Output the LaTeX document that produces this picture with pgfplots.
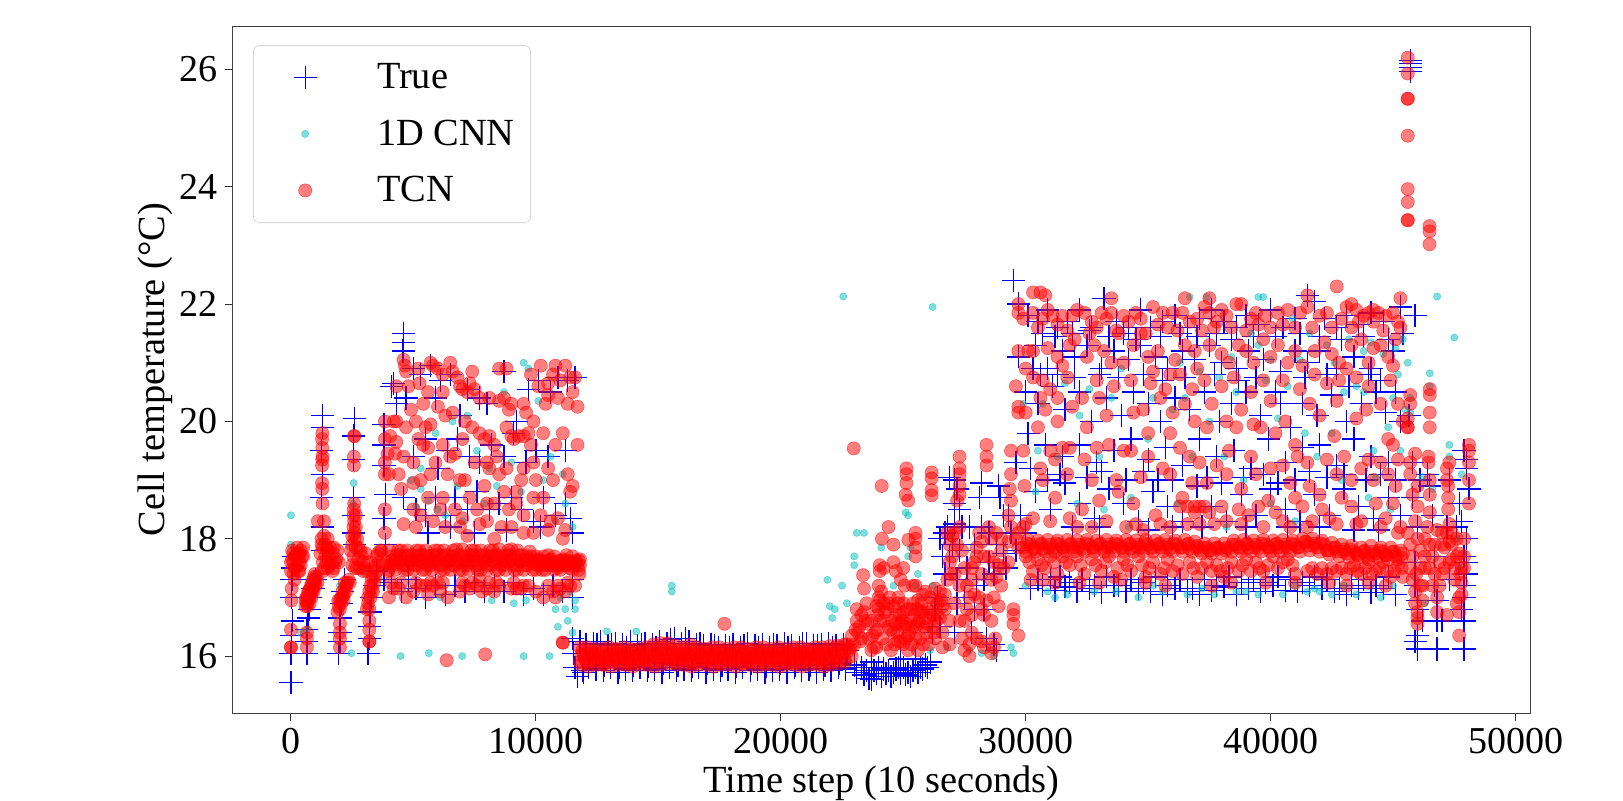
\documentclass[border=0pt]{standalone}
\usepackage{pgfplots}
\pgfplotsset{compat=1.18}
\usepackage{fontspec}
\setmainfont{Liberation Serif}
\definecolor{cnn}{rgb}{0,0.75,0.75}
\begin{document}
\begin{tikzpicture}
\useasboundingbox (-116.5pt,-43.5pt) rectangle (695pt,356.5pt);
\begin{axis}[
 scale only axis, width=648.5pt, height=343.5pt,
 xmin=-2367, xmax=50592, ymin=15.03, ymax=26.74,
 xtick={0,10000,20000,30000,40000,50000}, ytick={16,18,20,22,24,26},
 scaled x ticks=false,
 /pgf/number format/assume math mode=true,
 /pgf/number format/1000 sep={},
 tick align=outside, tick pos=left, major tick length=4pt,
 every tick/.style={black!80,line width=.5pt},
 axis line style={black!75,line width=.5pt},
 tick label style={font=\fontsize{19}{21}\selectfont},
 label style={font=\fontsize{19.2}{21}\selectfont},
 xlabel={Time step (10 seconds)}, ylabel={Cell temperature (°C)},
 xlabel style={yshift=1pt}, ylabel style={yshift=-3pt},
 legend cell align=left,
 legend style={at={(0.0154,0.972)},anchor=north west,draw=black!15,rounded corners=3pt,
  font=\fontsize{19.2}{21}\selectfont,row sep=10pt,inner xsep=6pt,inner ysep=7pt,
  /tikz/every odd column/.append style={column sep=14pt}},
 legend image code/.code={\path[draw=none,sharp corners] (0,0) -- (1.4cm,0); \path[#1] plot[only marks] coordinates {(0.7cm,0)};},
]
\addplot[only marks,mark=+,mark size=5.8pt,mark options={blue,line width=.65pt}] coordinates {
(0,15.55)(0,16.05)(50,16.6)(30,17.0)(40,17.3)(50,17.5)(20,16.35)(100,17.7)
(650,16.05)(650,16.25)(650,16.45)(700,16.65)(750,16.8)(800,17.0)(900,17.15)(1000,17.3)
(1280,20.1)(1280,19.9)(1250,19.5)(1280,19.1)(1250,18.7)(1280,18.2)(1300,17.8)
(1950,16.05)(2000,16.25)(2000,16.4)(2000,16.65)(2050,16.9)(2100,17.1)(2200,17.3)
(2580,20.05)(2560,19.75)(2550,19.35)(2540,18.7)(2550,18.4)(2560,18.1)(2600,17.9)
(3150,16.05)(3200,16.3)(3200,16.5)(3230,16.75)(3300,17.0)(3400,17.2)(3500,17.45)
(3800,19.95)(3800,19.6)(3800,19.25)(3850,18.75)(3800,18.35)(3850,17.9)
(4600,21.5)(4600,21.35)(4580,21.2)(4200,20.65)(4100,20.6)(4300,20.3)(4700,20.4)(5000,20.9)(5300,20.8)
(5700,20.95)(5900,20.4)(6100,20.7)(6500,20.8)(6900,20.1)(7200,20.55)(7700,20.4)(8000,20.3)(8700,20.85)(9200,20.0)
(9700,20.55)(10100,20.7)(10600,20.5)(10900,20.75)(11300,20.7)(11600,20.75)(5000,19.4)(5500,19.7)(6000,19.2)(6400,19.5)
(6800,19.7)(7300,19.4)(7700,19.3)(8200,19.6)(8700,19.4)(9100,19.8)(9600,19.3)(10000,19.5)(10500,19.4)(11200,19.5)
(4600,18.7)(5100,18.5)(5500,18.4)(5900,18.7)(6300,18.4)(6700,18.7)(7200,18.5)(7600,18.8)(8100,18.5)(8500,18.6)(9000,18.7)
(9400,18.5)(9900,18.3)(10300,18.7)(10800,18.4)(11200,18.6)(11500,18.1)(11400,18.35)(5600,18.1)(6500,18.2)(7500,18.1)(8800,18.15)(10200,18.2)
(3800,17.3)(4100,17.25)(4500,17.1)(4800,17.3)(5100,17.15)(5500,17.0)(5900,17.2)(6300,17.05)(6700,17.2)(7100,17.1)(7500,17.25)
(7900,17.1)(8300,17.2)(8700,17.1)(9100,17.25)(9500,17.05)(9900,17.15)(10300,17.05)(10700,17.2)(11100,17.1)(11500,17.3)(11500,17.0)
(11500,16.3)(11550,16.05)(11600,15.8)(11700,15.65)(11900,15.75)(12200,15.95)(12500,16.2)(12800,15.85)(13100,16.2)(13400,15.8)(13700,16.15)
(14000,15.85)(14300,16.2)(14600,15.82)(14900,16.15)(15200,15.88)(15500,16.28)(15800,15.85)(16100,16.3)(16400,15.82)(16700,16.22)
(17000,15.88)(17300,16.18)(17600,15.85)(17900,16.15)(18200,15.82)(18500,16.18)(18800,15.88)(19100,16.15)(19400,15.82)(19700,16.2)
(20000,15.88)(20300,16.15)(20600,15.85)(20900,16.22)(21200,15.85)(21500,16.18)(21800,15.85)(22100,16.15)(22400,15.88)(22700,16.1)
(23000,15.85)(23300,15.8)(23600,15.62)(23800,15.75)(24000,15.8)(24300,15.7)(24600,15.72)(24800,15.8)(25100,15.68)(25400,15.75)(25700,15.8)(25900,15.85)(26100,15.9)
(23700,15.9)(24900,15.95)(25500,15.95)
(11800,16.25)(11950,15.72)(12050,16.2)(12150,15.8)(12350,16.22)(12450,15.78)(12650,16.25)(12750,15.75)(12950,16.18)(13050,15.8)(13250,16.22)(13350,15.72)(13550,16.2)(13650,15.78)(13850,16.25)(13950,15.75)(14150,16.18)(14250,15.8)(14450,16.22)(14550,15.75)(14750,16.2)(14850,15.78)(15050,16.25)(15150,15.72)(15350,16.22)(15450,15.8)(15650,16.3)(15750,15.75)(15950,16.22)(16050,15.78)(16250,16.25)(16350,15.75)(16550,16.2)(16650,15.8)(16850,16.18)(16950,15.72)(17150,16.2)(17250,15.78)(17450,16.15)(17550,15.75)(17750,16.18)(17850,15.78)(18050,16.2)(18150,15.72)(18350,16.15)(18450,15.8)(18650,16.22)(18750,15.75)(18950,16.18)(19050,15.78)(19250,16.2)(19350,15.72)(19550,16.15)(19650,15.75)(19850,16.18)(19950,15.78)(20150,16.22)(20250,15.72)(20450,16.18)(20550,15.8)(20750,16.15)(20850,15.75)(21050,16.22)(21150,15.78)(21350,16.18)(21450,15.72)(21650,16.2)(21750,15.78)(21950,16.22)(22050,15.75)(22250,16.18)(22350,15.8)(22550,16.2)(22650,15.78)
(23100,15.72)(23400,15.68)(23500,15.75)(23700,15.6)(23900,15.7)(24100,15.65)(24200,15.78)(24400,15.75)(24500,15.65)(24700,15.78)(24900,15.7)(25000,15.8)(25200,15.72)(25300,15.65)(25500,15.8)(25600,15.72)(25800,15.78)(26000,15.8)
(26400,17.0)(26700,17.4)(26500,18.0)(26800,18.2)(27100,18.25)(27400,18.2)(27700,18.2)(26900,17.7)(27200,17.3)(27500,17.0)
(26900,19.05)(27100,19.0)(27200,18.85)(27100,18.6)(27300,18.5)(28200,18.95)(28100,18.7)(28900,18.9)(28950,18.7)(29100,18.4)(29600,19.3)(29300,18.4)
(28300,16.8)(28400,16.3)(28300,17.3)(28800,16.1)(28500,17.6)(29200,17.5)(29600,17.8)(27800,16.4)(27900,16.8)(28700,16.2)
(26600,17.7)(26700,18.1)(27000,17.9)(27300,17.8)(27600,17.5)(27900,17.9)(28200,18.2)(28500,18.1)(28800,17.9)(29100,17.75)(29400,18.1)(27200,16.9)(28000,17.2)(28700,17.4)(27100,16.4)(26200,16.4)(26300,16.8)(26500,16.5)
(29500,22.4)(29700,22.0)(30100,21.8)(30500,21.7)(30900,21.9)(31300,21.6)(31700,21.7)(32200,21.9)(32700,21.6)(33200,22.1)(33700,21.7)(34200,21.6)
(34700,21.9)(35100,21.6)(35600,21.7)(36100,21.8)(36600,21.6)(37100,21.75)(37600,21.9)(38100,21.7)(38600,21.6)(39000,21.8)(39500,21.65)
(40000,21.9)(40500,21.6)(41000,21.75)(41500,22.15)(41800,22.05)(42200,21.75)(42700,21.6)(43100,21.8)(43600,21.65)(44100,21.85)(44600,21.7)(45300,21.95)(45900,21.8)(45400,21.5)
(29700,21.1)(30400,21.3)(30900,20.9)(31500,21.2)(32000,21.1)(32500,21.3)(33100,20.9)(33600,21.2)(34200,21.05)(34700,21.3)(35300,21.1)(35800,20.9)
(36400,21.2)(36900,21.05)(37500,21.3)(38000,21.0)(38600,20.9)(39100,21.2)(39700,21.05)(40400,20.85)(41000,21.2)(41500,21.0)(42000,21.2)(42700,20.9)(43400,21.1)(44000,20.8)(44500,20.7)(45000,21.2)
(30000,20.5)(30500,20.3)(31100,20.6)(31600,20.2)(32200,20.5)(32700,20.0)(33300,20.4)(33900,20.1)(34400,20.5)(35000,20.3)(35500,20.0)(36100,20.4)(36700,20.2)(37300,20.5)
(37900,20.0)(38400,20.3)(39000,20.5)(39600,20.1)(40200,20.5)(40800,19.9)(41300,20.3)(41900,20.1)(42500,20.45)(43100,20.0)(43700,20.3)(44300,20.5)(44700,20.15)(45300,20.0)
(30100,19.8)(30800,19.6)(31500,19.4)(32200,19.6)(32900,19.3)(33600,19.5)(34300,19.7)(35000,19.35)(35700,19.55)(36400,19.25)(37100,19.7)(37800,19.4)(38500,19.5)(39200,19.2)(39900,19.7)(40600,19.3)(41300,19.55)(42000,19.6)(42700,19.25)(43400,19.7)(44100,19.4)(44800,19.3)
(29800,18.4)(30400,18.8)(31000,18.5)(31600,18.95)(32200,18.6)(32800,18.35)(33400,18.85)(34000,18.6)(34600,18.3)(35200,18.8)(35800,18.55)(36400,18.3)(37000,18.9)(37600,18.55)(38200,18.3)(38800,18.75)(39400,18.4)(40000,18.85)(40600,18.5)(41200,18.3)(41800,18.75)(42400,18.4)(43000,18.85)(43600,18.55)(44200,18.35)(44800,18.7)(45300,18.4)
(30000,18.1)(30500,17.3)(31000,17.3)(31400,17.35)(31800,17.25)(32300,17.3)(32800,17.2)(33300,17.35)(33800,17.2)(34300,17.3)(34800,17.25)(35300,17.35)(35800,17.2)(36300,17.3)(36800,17.15)(37300,17.3)(37800,17.2)(38300,17.35)(38800,17.25)(39300,17.3)(39800,17.25)(40300,17.35)(40800,17.3)(41300,17.25)(41800,17.35)(42300,17.3)(42800,17.15)(43300,17.2)(43800,17.3)(44300,17.2)(44800,17.35)
(30200,17.15)(30700,17.2)(31200,17.12)(31600,17.18)(32100,17.1)(32600,17.15)(33100,17.08)(33600,17.2)(34100,17.1)(34600,17.15)(35100,17.1)(35600,17.05)(36100,17.15)(36600,17.1)(37100,17.05)(37600,17.12)(38100,17.18)(38600,17.05)(39100,17.15)(39600,17.1)(40100,17.2)(40600,17.12)(41100,17.1)(41600,17.2)(42100,17.15)(42600,17.1)(43100,17.05)(43600,17.15)(44100,17.08)(44600,17.15)(45100,17.05)
(30300,20.9)(30700,21.5)(31200,21.45)(31900,21.5)(32600,21.55)(33400,21.45)(34000,21.5)(34500,21.4)(35500,21.45)(36300,21.5)(37000,21.45)(37800,21.5)(38400,21.4)(39300,21.45)(40200,21.45)(41200,21.5)(42000,21.45)(42900,21.4)(43800,21.45)(44800,21.4)
(30200,19.2)(30900,19.0)(31400,19.1)(32500,19.05)(33100,19.15)(34100,19.0)(34800,19.15)(35400,19.0)(36000,19.0)(37400,19.05)(38000,18.95)(38900,19.05)(39700,19.1)(40300,18.95)(41000,19.0)(41600,19.15)(42300,19.05)(43000,19.1)(43900,19.0)(44500,19.1)(45100,19.0)
(30600,20.8)(31300,20.8)(32000,20.75)(33000,20.8)(33800,20.75)(34800,20.8)(35600,20.7)(36500,20.75)(37700,20.8)(38700,20.7)(39400,20.75)(40400,20.3)(41400,20.75)(42300,20.8)(43200,20.6)(44100,20.9)(45100,20.5)
(31900,18.2)(33000,18.2)(35000,18.15)(36000,18.2)(37200,18.2)(39000,18.2)(40700,18.2)(42000,18.2)(43400,18.15)(44400,18.15)
(45700,26.15)(45700,26.1)(45700,26.03)(45700,25.97)(45650,20.1)(46000,16.12)(45900,16.25)(46000,16.35)(46000,16.8)(46800,16.12)(46800,16.6)(47900,16.12)(47900,16.6)(47900,17.0)
(47900,19.5)(48000,19.35)(48000,19.2)(48100,18.85)(47800,18.3)(47900,17.7)(48000,17.4)(46600,18.4)(46700,17.7)(46700,17.2)(46000,18.2)(45900,17.6)(45900,17.2)(47200,18.2)(47300,17.3)(47700,18.6)(47600,18.2)(46100,19.0)(47300,19.0)
(46000,16.95)(46200,16.6)(46800,16.95)(47000,16.6)(47800,16.8)(47900,17.2)(48000,17.6)(48000,18.0)(46500,18.9)(46400,19.1)(45800,18.7)(45800,19.3)
};
\addlegendentry{True}
\addplot[only marks,mark=*,mark size=1.8pt,mark options={draw=cnn,fill=cnn,opacity=.5,line width=.3pt}] coordinates {
(0,18.4)(0,17.9)(300,17.5)(650,16.45)(400,16.4)(2000,17.2)(2474,16.05)(2560,18.95)(2540,18.6)(4473,16.0)(5630,16.05)(6990,16.0)(9500,16.0)(10560,16.0)
(4900,19.0)(5300,19.2)(5900,19.8)(6300,18.4)(5600,18.65)(6800,18.9)(7200,20.1)(7600,19.5)(8100,19.2)(8700,20.5)(9500,21.0)(10100,20.35)(10600,19.4)(11200,18.6)(11100,19.1)(11500,18.2)(11400,17.1)(11200,16.8)(11300,16.6)(10900,16.5)(11500,16.4)(10800,16.8)(11000,17.0)(11600,16.8)(11600,16.95)
(5300,18.85)(6000,18.5)(6600,20.0)(7000,18.3)(7900,18.6)(8400,18.9)(9000,19.3)(9400,18.8)(9700,20.9)(10300,19.0)(10800,18.3)(5100,18.55)(6100,17.0)(8200,16.95)(9100,16.9)(9600,16.95)
(15550,17.2)(15550,17.1)(12900,16.42)(14100,16.42)(22550,22.13)(26200,21.95)(22100,16.65)(21900,17.3)(22000,16.85)(22200,16.8)(22700,16.9)(23000,17.55)(23400,18.1)(23100,18.1)(23000,17.7)(22500,17.2)(24100,17.85)(25200,18.4)(25100,18.45)(25300,17.85)(25200,17.7)(24600,17.2)(25600,17.4)(25500,17.2)(26200,17.2)(26100,16.1)(26800,16.15)(27700,16.1)(28200,16.05)(28700,16.0)(29400,16.15)(29500,16.05)(27000,18.0)
(29900,20.3)(30500,19.5)(31300,19.4)(32200,20.1)(33000,19.4)(33500,20.4)(34300,18.7)(35000,19.7)(36000,20.2)(36500,20.4)(37500,20.0)(38100,19.4)(38400,21.1)(39200,21.5)(39800,20.7)(40300,20.05)(41200,21.05)(41900,19.4)(42500,19.8)(43000,20.5)(43800,20.5)(44200,19.5)(44800,19.9)(45000,20.4)(45200,20.8)(45600,21.0)(45700,20.4)(45700,20.15)
(36700,22.12)(37400,22.12)(39500,22.12)(39700,22.12)(40900,21.75)(41600,21.5)(42600,21.0)(43500,20.6)(43800,21.2)(44300,19.05)(44900,18.5)(46500,20.82)(46500,20.6)(46800,22.13)(47500,21.43)
(30400,18.8)(31200,17.0)(32100,18.6)(33200,18.5)(34200,18.2)(35200,17.2)(36200,18.6)(37200,17.15)(38200,18.2)(39000,17.1)(40000,18.6)(41000,18.3)(42000,17.1)(43000,17.2)(44000,18.7)(45000,17.2)(46200,19.05)(46600,18.85)(47300,19.4)(47300,19.6)(47800,19.1)(47600,18.0)(47700,17.5)(46300,16.9)
(30000,17.2)(30900,17.1)(31700,17.05)(32800,17.1)(33700,17.1)(34600,17.0)(35600,17.1)(36600,17.05)(37700,17.05)(38600,17.1)(39500,17.05)(40500,17.05)(41500,17.1)(42500,17.05)(43500,17.05)(44500,17.0)(41000,17.2)(41800,17.15)
(30700,20.3)(31600,20.65)(32600,20.55)(33900,20.9)(35200,20.4)(36300,21.0)(37100,20.85)(37900,20.75)(38600,20.5)(39500,21.3)(40000,21.05)(40700,20.6)(42300,21.3)(43200,21.4)(44100,21.35)(44600,21.15)(45100,21.25)(45400,21.4)(45500,20.2)(36800,19.4)(38900,19.0)(41400,19.8)(42900,19.0)(45300,19.5)
};
\addlegendentry{1D CNN}
\addplot[only marks,mark=*,mark size=3.3pt,mark options={draw=red,fill=red,opacity=.5,line width=.3pt}] coordinates {
(0,16.15)(0,16.15)(0,16.45)(20,16.95)(30,17.15)(0,17.45)(50,17.65)(100,17.75)(150,17.5)(200,17.7)(250,17.85)(300,17.45)(350,17.6)(400,17.8)(450,17.7)(500,17.85)(150,17.3)(250,17.55)(100,17.4)(350,17.75)
(0,17.6)(100,17.6)(200,17.5)(300,17.7)(400,17.55)(500,17.7)(50,17.8)(150,17.7)(250,17.75)(350,17.45)
(600,16.85)(650,16.9)(700,16.95)(750,17.0)(800,17.05)(850,17.1)(900,17.15)(950,17.25)(1000,17.3)(1050,17.35)(620,17.0)(700,17.1)(780,17.15)(860,17.25)(940,17.35)(650,16.15)(650,16.3)(650,16.4)
(600,16.95)(680,16.85)(760,16.9)(840,17.0)(920,17.1)(1000,17.2)(1080,17.25)(660,17.0)(740,17.1)(820,17.2)(900,17.3)(980,17.4)
(1280,19.8)(1270,19.7)(1280,19.55)(1290,19.4)(1280,19.35)(1270,19.25)(1270,18.95)(1280,18.85)(1290,18.6)(1100,18.3)(1350,18.3)(1250,18.0)(1350,18.05)(1400,17.9)(1500,18.0)(1200,17.75)(1300,17.6)(1400,17.7)(1500,17.8)(1600,17.55)(1700,17.75)(1800,17.6)(1900,17.8)(1350,17.5)(1500,17.5)(1700,17.45)
(1250,17.9)(1300,17.85)(1450,17.85)(1550,17.7)(1650,17.6)(1750,17.5)(1850,17.65)(1950,17.6)(1300,17.45)(1450,17.6)(1600,17.85)(1750,17.85)
(1900,16.75)(1950,16.85)(2000,16.8)(2050,16.9)(2100,17.0)(2150,17.05)(2200,17.15)(2250,17.2)(2350,17.3)(2000,16.95)(2100,17.1)(2200,17.25)(2000,16.15)(2000,16.3)(2000,16.4)(2000,16.55)
(1930,16.95)(2050,17.0)(2150,16.95)(2250,17.1)(2300,17.25)(2400,17.25)
(2585,19.75)(2580,19.75)(2570,19.4)(2570,19.25)(2580,18.6)(2570,18.5)(2560,18.4)(2580,18.3)(2600,18.1)(2600,18.0)(2650,18.2)(2500,18.05)(2450,17.8)(2550,17.7)(2650,17.85)(2750,17.65)(2850,17.8)(2950,17.6)(3050,17.75)(3150,17.6)(2600,17.5)(2800,17.5)(3000,17.5)
(2500,17.9)(2700,18.0)(2550,18.2)(2650,18.4)(2500,17.55)(2700,17.5)(2900,17.7)(3100,17.45)(2750,17.85)(2950,17.45)
(3100,16.8)(3150,17.0)(3200,17.1)(3250,17.2)(3300,17.3)(3350,17.35)(3400,17.5)(3450,17.55)(3500,17.7)(3550,17.75)(3200,16.25)(3200,16.25)(3200,16.45)(3200,16.6)(3200,16.8)(3250,17.0)(3350,17.1)(3450,17.35)
(3150,16.9)(3300,17.15)(3400,17.25)(3500,17.45)(3600,17.6)(3650,17.8)(3750,17.55)
(3835,20.0)(3835,19.7)(3835,19.3)(3835,19.1)(3835,18.5)(3835,18.1)(3700,17.8)(3950,17.45)
(4000,17.47)(4250,17.63)(4500,17.8)(4750,17.47)(5000,17.63)(5250,17.8)(5500,17.47)(5750,17.63)(6000,17.8)(6250,17.47)(6500,17.63)(6750,17.82)(7000,17.47)(7250,17.63)(7500,17.8)(7750,17.47)(8000,17.63)(8250,17.8)(8500,17.47)(8750,17.63)(9000,17.82)(9250,17.47)(9500,17.63)(9750,17.78)(10000,17.47)(10250,17.63)(10500,17.72)(10750,17.47)(11000,17.63)(11250,17.72)(11500,17.47)(11750,17.63)
(4000,17.8)(4250,17.47)(4500,17.63)(4750,17.8)(5000,17.47)(5250,17.63)(5500,17.8)(5750,17.47)(6000,17.63)(6250,17.8)(6500,17.47)(6750,17.63)(7000,17.82)(7250,17.47)(7500,17.63)(7750,17.8)(8000,17.47)(8250,17.63)(8500,17.82)(8750,17.47)(9000,17.63)(9250,17.8)(9500,17.47)(9750,17.63)(10000,17.7)(10250,17.47)(10500,17.63)(10750,17.7)(11000,17.47)(11250,17.63)(11500,17.7)(11750,17.47)
(4125,17.63)(4375,17.8)(4625,17.47)(4875,17.63)(5125,17.8)(5375,17.47)(5625,17.63)(5875,17.8)(6125,17.47)(6375,17.63)(6625,17.8)(6875,17.47)(7125,17.63)(7375,17.8)(7625,17.47)(7875,17.63)(8125,17.8)(8375,17.47)(8625,17.63)(8875,17.8)(9125,17.47)(9375,17.63)(9625,17.7)(9875,17.47)(10125,17.63)(10375,17.47)(10625,17.63)(10875,17.5)(11125,17.63)(11375,17.5)(11625,17.63)(11800,17.55)
(4060,17.55)(4310,17.72)(4560,17.55)(4810,17.72)(5060,17.55)(5310,17.72)(5560,17.55)(5810,17.72)(6060,17.55)(6310,17.72)(6560,17.55)(6810,17.72)(7060,17.55)(7310,17.72)(7560,17.55)(7810,17.72)(8060,17.55)(8310,17.72)(8560,17.55)(8810,17.72)(9060,17.55)(9310,17.72)(9560,17.55)(9810,17.7)(10060,17.55)(10310,17.7)(10560,17.55)(10810,17.6)(11060,17.55)(11310,17.6)(11560,17.55)(11780,17.4)
(4190,17.55)(4440,17.72)(4690,17.55)(4940,17.72)(5190,17.55)(5440,17.72)(5690,17.55)(5940,17.72)(6190,17.55)(6440,17.72)(6690,17.55)(6940,17.72)(7190,17.55)(7440,17.72)(7690,17.55)(7940,17.72)(8190,17.55)(8440,17.72)(8690,17.55)(8940,17.72)(9190,17.55)(9440,17.72)(9690,17.55)(9940,17.6)(10190,17.55)(10440,17.6)(10690,17.55)(10940,17.55)(11190,17.55)(11440,17.6)(11690,17.55)(11800,17.65)
(3950,17.6)(4120,17.7)(4380,17.6)(4620,17.7)(4880,17.6)(5120,17.7)(5380,17.6)(5620,17.7)(5880,17.6)(6120,17.7)(6380,17.6)(6620,17.7)(6880,17.6)(7120,17.7)(7380,17.6)(7620,17.7)(7880,17.6)(8120,17.7)(8380,17.6)(8620,17.7)(8880,17.6)(9120,17.7)(9380,17.6)(9620,17.65)(9880,17.6)(10120,17.65)(10380,17.55)(10620,17.65)(10880,17.55)(11120,17.65)(11380,17.55)(11620,17.6)
(4000,17.0)(4200,17.15)(4400,17.15)(4700,17.0)(5000,17.1)(5300,17.2)(5600,17.05)(5800,17.2)(6100,17.1)(6400,17.0)(6900,17.1)(7100,17.2)(7300,17.15)(7600,17.2)(7800,17.1)(8000,17.15)(8300,17.1)(8500,17.2)(9000,17.15)(9200,17.15)(9400,17.15)(9700,17.2)(10000,17.1)(10300,17.0)(10700,17.1)(11000,17.15)(11200,17.1)(11400,17.2)(10800,17.0)(11100,16.23)
(4100,17.25)(4500,17.25)(5100,17.25)(5500,17.2)(5700,17.25)(6000,17.25)(6200,17.25)(7000,17.25)(7400,17.25)(7700,17.3)(8100,17.25)(8400,17.25)(9100,17.25)(9500,17.2)(10500,17.2)(10900,17.2)(11300,17.25)(11600,17.2)
(4200,20.0)(4050,19.75)(4300,19.65)(3950,19.45)(4250,19.45)(4600,19.4)(4300,20.0)(4400,19.1)(4000,19.1)(4500,18.85)(5000,18.5)(4900,20.2)(4600,21.05)(4650,20.95)(4300,20.6)(4700,20.85)(5250,20.65)(5400,20.3)(5700,21.0)(5800,20.95)(6000,20.9)(6200,20.8)(6500,21.0)(6600,20.85)(6200,20.5)(6300,20.1)(6000,20.25)(5500,19.9)(5200,19.7)(5400,19.6)(5600,19.55)(5900,19.3)(6200,19.6)(6500,19.4)(6900,20.6)(7000,20.55)(7200,20.5)(7300,20.65)(7500,20.55)(7700,20.4)(7100,20.0)(7000,19.7)(6700,19.45)(6400,19.1)(6200,18.7)(5800,18.3)(5300,18.4)(5100,18.2)
(7700,19.8)(7900,19.7)(8100,19.75)(8300,19.6)(8000,19.3)(8100,19.2)(8500,20.35)(8700,20.4)(8800,20.9)(8500,20.9)(8900,20.2)(8400,19.4)(9000,19.75)(9100,19.7)(9300,19.75)(9500,20.3)(9600,20.15)(9500,19.75)(9700,19.8)(9800,19.6)(9500,19.2)(9200,18.8)(10200,20.95)(10500,20.65)(10800,20.95)(10500,20.45)(10100,20.6)(10700,20.8)(11200,20.95)(11400,20.75)(11500,20.5)(10900,20.4)(11300,20.3)(11600,20.75)(11700,20.25)(11100,19.8)(11700,19.6)(10500,19.2)(10700,19.0)(11300,19.1)(11400,18.8)(11500,18.9)(10200,18.4)(10300,18.7)(10600,18.3)(10900,18.35)(11200,18.15)(11100,18.0)
(6900,18.2)(7200,18.05)(7700,18.25)(8000,18.3)(8300,18.0)(8600,18.2)(9000,18.2)(9200,18.6)(9500,18.4)(9900,19.3)(10000,19.0)(7100,19.0)(7300,18.7)(7600,18.5)(8500,19.1)(8700,18.8)(9900,18.7)
(4800,20.6)(5200,20.9)(5600,20.5)(6800,20.75)(7400,20.85)(8100,20.4)(9000,20.3)(9800,20.8)(10400,20.3)(11000,20.7)(4700,19.9)(5100,20.0)(5700,19.95)(6600,20.15)(7400,19.9)(8800,19.9)(9900,20.0)(10300,19.8)(10800,19.6)(5000,19.3)(5300,19.0)(5700,19.1)(6900,19.0)(7500,19.3)(7900,18.9)(8300,18.6)(8800,19.2)(9400,19.0)(5000,18.95)(5600,18.7)(6100,18.5)(6700,18.5)(7000,18.35)(8000,18.6)(8900,18.5)(9500,18.1)(9900,18.1)(10500,18.15)(4600,18.25)(6300,18.2)
(6360,15.93)(7930,16.03)(11100,16.23)(17700,16.55)
(11800,15.9)(12100,15.88)(12400,15.92)(12700,15.87)(13000,15.9)(13300,15.92)(13600,15.88)(13900,15.87)(14200,15.9)(14500,15.92)(14800,15.9)(15100,15.92)(15400,15.95)(15700,15.9)(16000,15.92)(16300,15.88)(16600,15.9)(16900,15.92)(17200,15.9)(17500,15.88)(17800,15.92)(18100,15.9)(18400,15.88)(18700,15.9)(19000,15.9)(19300,15.88)(19600,15.92)(19900,15.88)(20200,15.9)(20500,15.88)(20800,15.9)(21100,15.92)(21400,15.9)(21700,15.88)(22000,15.9)(22300,15.92)(22600,15.95)(22900,16.0)
(11950,16.03)(12250,16.05)(12550,16.03)(12850,16.0)(13150,16.03)(13450,16.05)(13750,16.03)(14050,16.0)(14350,16.03)(14650,16.05)(14950,16.05)(15250,16.08)(15550,16.05)(15850,16.03)(16150,16.05)(16450,16.03)(16750,16.03)(17050,16.05)(17350,16.03)(17650,16.05)(17950,16.03)(18250,16.05)(18550,16.03)(18850,16.03)(19150,16.05)(19450,16.03)(19750,16.05)(20050,16.03)(20350,16.05)(20650,16.03)(20950,16.05)(21250,16.03)(21550,16.05)(21850,16.03)(22150,16.05)(22450,16.08)(22750,16.12)(23000,16.2)
(11800,16.15)(12100,16.15)(12400,16.12)(12700,16.13)(13000,16.15)(13300,16.12)(13600,16.15)(13900,16.12)(14200,16.12)(14500,16.15)(14800,16.2)(15100,16.22)(15400,16.22)(15700,16.18)(16000,16.15)(16300,16.2)(16600,16.15)(16900,16.12)(17200,16.15)(17500,16.15)(17800,16.12)(18100,16.15)(18400,16.15)(18700,16.12)(19000,16.15)(19300,16.15)(19600,16.12)(19900,16.15)(20200,16.12)(20500,16.15)(20800,16.15)(21100,16.12)(21400,16.15)(21700,16.15)(22000,16.17)(22300,16.18)(22600,16.2)(22900,16.35)
(11850,15.85)(12150,15.82)(12450,15.85)(12750,15.85)(13050,15.82)(13350,15.85)(13650,15.85)(13950,15.82)(14250,15.85)(14550,15.85)(14850,15.82)(15150,15.85)(15450,15.87)(15750,15.85)(16050,15.85)(16350,15.82)(16650,15.85)(16950,15.85)(17250,15.82)(17550,15.85)(17850,15.85)(18150,15.82)(18450,15.85)(18750,15.85)(19050,15.82)(19350,15.85)(19650,15.85)(19950,15.82)(20250,15.85)(20550,15.85)(20850,15.82)(21150,15.85)(21450,15.85)(21750,15.82)(22050,15.85)(22350,15.87)(22650,15.9)
(12000,15.97)(12300,15.98)(12600,15.97)(12900,15.95)(13200,15.98)(13500,15.97)(13800,15.95)(14100,15.98)(14400,15.97)(14700,16.0)(15000,16.0)(15300,16.0)(15600,15.98)(15900,15.97)(16200,16.0)(16500,15.97)(16800,15.98)(17100,15.97)(17400,15.98)(17700,15.97)(18000,15.98)(18300,15.97)(18600,15.98)(18900,15.97)(19200,15.98)(19500,15.97)(19800,15.98)(20100,15.97)(20400,15.98)(20700,15.97)(21000,15.98)(21300,15.97)(21600,15.98)(21900,15.97)(22200,16.0)(22500,16.05)(22800,16.1)
(11900,16.1)(12200,16.1)(12500,16.08)(12800,16.08)(13100,16.1)(13400,16.1)(13700,16.08)(14000,16.1)(14300,16.08)(14600,16.12)(14900,16.13)(15200,16.15)(15500,16.13)(15800,16.1)(16100,16.1)(16400,16.12)(16700,16.08)(17000,16.1)(17300,16.08)(17600,16.1)(17900,16.08)(18200,16.1)(18500,16.08)(18800,16.1)(19100,16.08)(19400,16.1)(19700,16.08)(20000,16.1)(20300,16.08)(20600,16.1)(20900,16.08)(21200,16.1)(21500,16.08)(21800,16.1)(22100,16.12)(22400,16.15)(22700,16.2)
(11850,16.02)(12050,15.93)(12350,16.02)(12650,15.93)(12950,16.02)(13250,15.93)(13550,16.02)(13850,15.93)(14150,16.02)(14450,15.93)(14750,16.02)(15050,15.97)(15350,16.05)(15650,15.95)(15950,16.02)(16250,15.93)(16550,16.02)(16850,15.93)(17150,16.02)(17450,15.93)(17750,16.02)(18050,15.93)(18350,16.02)(18650,15.93)(18950,16.02)(19250,15.93)(19550,16.02)(19850,15.93)(20150,16.02)(20450,15.93)(20750,16.02)(21050,15.93)(21350,16.02)(21650,15.93)(21950,16.02)(22250,15.97)(22550,16.05)(22850,16.15)
(22980,19.54)(24120,18.9)(25130,19.2)(25130,19.1)(25130,18.95)(25100,18.75)(25200,18.65)(26160,19.13)(26160,19.03)(26160,18.83)(26160,18.74)(24400,18.2)(24130,18.0)(24600,17.9)(25210,17.98)(25500,18.1)(25500,18.0)(25500,17.85)(25500,17.7)(24040,17.55)(24040,17.45)(24200,17.5)(24600,17.6)(24700,17.45)(23360,17.38)(23400,17.15)(23100,16.8)(23100,16.6)(23150,16.4)(23300,16.3)(23450,16.6)(23600,16.3)(23700,16.1)(23800,16.15)
(24000,17.2)(24000,17.0)(24000,16.8)(24050,16.6)(23950,16.45)(24200,16.9)(24150,16.3)(24400,16.5)(24500,16.1)(24600,16.4)(24700,16.7)(24800,17.0)(24900,17.3)(25000,17.5)(25050,17.2)(25000,16.9)(24950,16.6)(25100,16.3)(25200,16.1)(25300,16.6)(25400,16.9)(25500,17.2)(25600,16.95)(25500,16.5)(25600,16.1)(25700,16.3)(25800,16.75)(25800,17.05)(26000,16.8)(26100,17.0)(26200,16.7)(26400,16.9)(26300,17.15)
(23200,16.5)(23300,16.7)(23500,16.9)(23700,16.6)(23850,16.4)(23900,16.85)(24100,17.1)(24200,16.6)(24300,16.2)(24350,16.8)(24450,17.0)(24550,16.6)(24650,16.2)(24750,16.4)(24850,16.7)(24900,16.25)(25050,16.5)(25150,16.8)(25250,16.4)(25350,16.2)(25450,16.7)(25550,16.8)(25650,16.6)(25750,16.9)(25850,16.5)(25950,16.4)(26050,16.2)(26250,16.4)(26350,16.6)(26500,17.1)(26550,16.95)(26300,16.95)(25900,17.1)(25400,17.2)(24800,16.9)(25000,16.2)(23900,16.15)
(23050,16.45)(23250,16.25)(23400,16.75)(23550,16.55)(23750,16.35)(23950,16.7)(24050,16.95)(24250,16.75)(24400,16.9)(24500,16.45)(24600,16.85)(24700,16.55)(24800,16.25)(24900,16.55)(25000,16.75)(25100,16.55)(25200,16.35)(25300,16.8)(25400,16.5)(25500,16.3)(25600,16.55)(25700,16.75)(25800,16.2)(25900,16.65)(26000,16.55)(26100,16.75)(26200,16.5)(26300,16.3)(26400,16.7)
(26800,18.1)(26900,17.9)(26900,17.6)(26800,17.3)(26700,17.05)(26600,16.85)(26500,16.65)(26600,16.4)(26600,16.15)(26700,16.8)(27100,16.9)(27300,16.6)(27400,16.3)(27500,16.1)(27700,16.0)(27800,16.4)(27600,16.8)
(26950,17.4)(27000,17.7)(27000,18.05)(27100,18.1)(27200,17.9)(27400,17.8)(27500,17.5)(27300,17.2)(27600,17.2)(27500,16.6)(27700,16.2)(27800,16.7)(28000,17.7)(27800,17.5)
(27700,17.0)(27800,17.3)(27900,17.6)(28000,17.85)(28100,18.1)(27900,17.05)(28100,17.0)(28200,16.8)(28300,16.7)(28600,16.6)(28700,17.0)(28800,17.35)(28900,17.55)(29000,17.8)(29000,18.0)(29300,17.95)(29400,18.2)
(28200,17.4)(28300,17.7)(28200,17.95)(28500,17.7)(28600,18.0)(28800,18.1)(28600,17.3)(28400,16.95)(29000,17.2)(29100,17.5)(29300,17.6)(29600,18.0)(29700,17.85)(29700,18.1)(28700,17.6)
(27300,19.4)(27300,19.2)(27300,19.1)(27300,18.9)(27300,18.75)(27200,18.65)(28400,19.6)(28400,19.4)(28400,19.25)(29400,19.5)(29400,19.1)(29350,18.85)(29400,18.65)(29300,18.4)(27300,18.2)(28500,18.2)(29500,16.8)(29500,16.55)(29500,16.7)(29700,16.35)(29900,19.5)(29900,18.2)(29950,18.9)
(26900,16.2)(27100,17.4)(26900,16.6)(28000,16.3)(28200,16.25)(28600,16.05)(28700,16.15)(28750,16.3)(28300,16.15)(28900,16.85)
(29900,17.85)(30100,17.98)(30300,17.82)(30500,17.97)(30700,17.83)(30900,17.98)(31100,17.83)(31300,17.97)(31500,17.85)(31700,17.98)(31900,17.85)(32100,17.97)(32300,17.83)(32500,17.98)(32700,17.85)(32900,17.97)(33100,17.83)(33300,17.98)(33500,17.85)(33700,17.97)(33900,17.85)(34100,17.98)(34300,17.83)(34500,17.97)(34700,17.85)(34900,17.98)(35100,17.83)(35300,17.97)(35500,17.85)(35700,17.98)(35900,17.83)(36100,17.97)(36300,17.85)(36500,17.98)(36700,17.83)(36900,17.95)(37100,17.8)(37300,17.92)(37500,17.8)(37700,17.92)(37900,17.83)(38100,17.92)(38300,17.83)(38500,17.97)(38700,17.85)(38900,17.98)(39100,17.85)(39300,17.97)(39500,17.83)(39700,17.98)(39900,17.85)(40100,17.97)(40300,17.85)(40500,17.98)(40700,17.85)(40900,17.97)(41100,17.85)(41300,18.0)(41500,17.88)(41700,18.0)(41900,17.85)(42100,17.97)(42300,17.8)(42500,17.93)(42700,17.78)(42900,17.9)(43100,17.75)(43300,17.88)(43500,17.75)(43700,17.85)(43900,17.72)(44100,17.88)(44300,17.75)(44500,17.85)(44700,17.72)(44900,17.85)(45100,17.7)(45300,17.8)
(30000,17.78)(30200,17.9)(30400,17.78)(30600,17.9)(30800,17.78)(31000,17.9)(31200,17.78)(31400,17.9)(31600,17.78)(31800,17.9)(32000,17.78)(32200,17.9)(32400,17.78)(32600,17.9)(32800,17.78)(33000,17.9)(33200,17.78)(33400,17.9)(33600,17.78)(33800,17.9)(34000,17.78)(34200,17.9)(34400,17.78)(34600,17.9)(34800,17.78)(35000,17.9)(35200,17.78)(35400,17.9)(35600,17.78)(35800,17.9)(36000,17.78)(36200,17.9)(36400,17.78)(36600,17.9)(36800,17.78)(37000,17.88)(37200,17.75)(37400,17.85)(37600,17.75)(37800,17.85)(38000,17.75)(38200,17.85)(38400,17.78)(38600,17.9)(38800,17.78)(39000,17.9)(39200,17.78)(39400,17.9)(39600,17.78)(39800,17.9)(40000,17.78)(40200,17.9)(40400,17.78)(40600,17.9)(40800,17.78)(41000,17.9)(41200,17.78)(41400,17.95)(41600,17.8)(41800,17.92)(42000,17.78)(42200,17.9)(42400,17.73)(42600,17.85)(42800,17.7)(43000,17.82)(43200,17.68)(43400,17.78)(43600,17.68)(43800,17.78)(44000,17.65)(44200,17.78)(44400,17.68)(44600,17.78)(44800,17.65)(45000,17.78)(45200,17.65)(45400,17.75)
(30050,17.92)(30350,17.85)(30650,17.92)(30950,17.85)(31250,17.92)(31550,17.85)(31850,17.92)(32150,17.85)(32450,17.92)(32750,17.85)(33050,17.92)(33350,17.85)(33650,17.92)(33950,17.85)(34250,17.92)(34550,17.85)(34850,17.92)(35150,17.85)(35450,17.92)(35750,17.85)(36050,17.92)(36350,17.85)(36650,17.92)(36950,17.85)(37250,17.85)(37550,17.8)(37850,17.85)(38150,17.8)(38450,17.9)(38750,17.85)(39050,17.92)(39350,17.85)(39650,17.92)(39950,17.85)(40250,17.92)(40550,17.85)(40850,17.92)(41150,17.85)(41450,17.95)(41750,17.88)(42050,17.92)(42350,17.8)(42650,17.85)(42950,17.78)(43250,17.82)(43550,17.72)(43850,17.8)(44150,17.72)(44450,17.8)(44750,17.72)(45050,17.78)(45350,17.68)
(30000,17.7)(30300,17.45)(30500,17.65)(30800,17.5)(31000,17.7)(31300,17.4)(31500,17.7)(31800,17.55)(32100,17.7)(32400,17.4)(32700,17.65)(33100,17.45)(33400,17.7)(33600,17.35)(34000,17.65)(34300,17.45)(34600,17.7)(34900,17.35)(35200,17.6)(35500,17.4)(35800,17.65)(36000,17.45)(36400,17.4)(36700,17.6)(37000,17.35)(37400,17.6)(37800,17.55)(38100,17.35)(38400,17.6)(38700,17.45)(39000,17.65)(39400,17.6)(39700,17.45)(40100,17.7)(40300,17.5)(40700,17.65)(41000,17.4)(41500,17.45)(41900,17.4)(42300,17.4)(42700,17.45)(43100,17.4)(43400,17.55)(43700,17.4)(44000,17.6)(44300,17.45)(44600,17.6)(44900,17.35)(45200,17.55)(45400,17.35)
(30150,17.6)(30650,17.55)(31150,17.6)(31650,17.6)(32250,17.55)(32850,17.55)(33250,17.6)(33750,17.5)(34150,17.55)(34750,17.55)(35050,17.5)(35650,17.5)(36200,17.55)(36850,17.5)(37200,17.5)(37600,17.45)(37950,17.45)(38250,17.5)(38850,17.55)(39200,17.45)(39550,17.5)(39900,17.55)(40500,17.6)(40900,17.55)(41700,17.5)(42100,17.5)(42500,17.5)(42900,17.5)(43250,17.5)(43550,17.45)(43850,17.5)(44150,17.4)(44450,17.5)(44750,17.45)(45050,17.45)(45350,17.5)
(30200,17.3)(30700,17.3)(31200,17.25)(32200,17.25)(33000,17.25)(33900,17.3)(34900,17.25)(35700,17.2)(37600,17.2)(38400,17.25)(39800,17.25)(41000,17.25)(42400,17.25)(43100,17.2)(44000,17.25)(44700,17.2)
(29700,22.0)(29700,21.85)(30300,22.2)(30600,22.2)(30800,22.15)(30300,21.85)(30700,21.75)(31100,21.8)(31500,21.8)(31900,21.8)(32400,21.85)(32700,21.7)(33100,21.85)(33500,21.85)(33500,22.1)(34000,21.8)(34500,21.85)(34700,21.75)(35200,21.95)(35600,21.85)(36000,21.85)(36400,21.85)(36500,22.1)(37000,21.75)(37300,21.95)(37500,22.1)(37500,21.85)(37800,21.7)(38200,21.8)(38600,22.0)(38800,22.0)(39200,21.75)(39500,21.65)(39800,21.8)(40300,21.85)(40700,21.9)(41200,21.85)(41500,22.15)(41500,21.95)(42000,21.8)(42300,21.85)(42700,22.3)(43100,21.95)(43300,22.0)(43500,21.9)(43600,21.7)(44000,21.85)(44400,21.85)(44700,21.8)(45300,22.1)(45300,21.6)(44200,21.7)
(29900,21.75)(30500,21.6)(30900,21.9)(31300,21.65)(31700,21.55)(32100,21.9)(32600,21.5)(32900,21.6)(33300,21.75)(33700,21.55)(34200,21.7)(34900,21.5)(35400,21.65)(35800,21.6)(36200,21.55)(36700,21.7)(37200,21.55)(37700,21.6)(38000,21.9)(38400,21.6)(39000,21.55)(39400,21.85)(40000,21.6)(40500,21.65)(41000,21.6)(41700,21.6)(42500,21.6)(42900,21.75)(43300,21.6)(43800,21.8)(44200,21.9)(44600,21.55)(45000,21.85)(45200,21.7)
(29700,21.2)(30000,20.9)(30300,21.2)(30700,20.7)(31300,21.1)(31800,21.3)(32500,21.1)(33200,21.2)(34000,21.0)(33800,21.5)(34700,21.5)(35000,21.1)(35400,21.2)(35900,20.8)(36500,21.3)(37000,20.9)(37500,21.3)(38000,21.15)(38700,21.3)(39300,21.0)(39700,21.4)(40300,21.3)(41000,21.2)(41300,20.95)(41800,21.2)(42200,21.35)(42800,21.0)(43300,21.3)(43700,21.4)(44200,21.25)(44800,21.1)(45100,21.4)
(29600,20.6)(29700,20.25)(30600,20.4)(31000,20.55)(31300,20.4)(31700,20.75)(32300,20.4)(32900,20.7)(33600,20.6)(34300,20.7)(35100,20.65)(35700,20.55)(36300,20.8)(36800,20.55)(37300,20.7)(38000,20.6)(38500,20.75)(39200,20.5)(39700,20.7)(40500,20.7)(41200,20.55)(41800,20.8)(42300,20.65)(42800,20.7)(43500,20.75)(44000,20.6)(44900,20.7)
(29700,20.15)(30000,20.15)(30500,19.9)(31300,20.0)(32500,19.9)(33300,20.1)(34400,20.15)(35000,19.8)(35900,19.8)(36000,20.15)(36900,20.0)(37400,19.9)(38200,20.0)(38600,19.9)(39300,19.95)(39600,19.9)(40200,19.8)(40600,20.0)(41000,19.6)(42000,20.1)(42600,19.75)(43500,20.05)(44800,19.7)(45000,19.6)(45400,20.0)(45600,19.9)
(31000,19.5)(31200,19.35)(31500,19.55)(31800,19.55)(32400,19.35)(32900,19.55)(33400,19.6)(34000,19.5)(34300,19.5)(35000,19.4)(35600,19.2)(36300,19.55)(36700,19.4)(37100,19.3)(37400,18.95)(37800,19.25)(38300,19.5)(38800,18.85)(39400,19.1)(40000,19.2)(40500,19.25)(41100,19.4)(41600,18.9)(42000,18.75)(42700,19.1)(43000,19.4)(43700,19.2)(44200,19.0)(44500,19.3)(45200,19.35)
(30300,18.35)(30700,19.0)(31200,18.7)(31800,18.35)(32300,18.5)(32700,18.2)(33000,18.65)(33800,18.8)(34400,18.6)(34500,18.25)(34800,18.15)(35300,18.4)(35900,18.2)(36400,18.7)(36900,18.45)(37100,18.25)(37500,18.45)(38000,18.55)(38200,18.3)(38700,18.5)(39100,18.4)(39500,18.55)(39900,18.65)(40200,18.45)(40500,18.3)(41000,18.7)(41300,18.55)(41700,18.3)(42100,18.5)(42400,18.35)(42900,18.7)(43300,18.55)(43700,18.3)(44300,18.6)(44700,18.35)(45000,18.6)(45300,18.2)
(36300,18.55)(36600,18.55)(36900,18.55)(37100,18.55)(37300,18.55)
(30100,21.2)(30900,21.25)(31500,20.95)(32000,21.4)(32800,21.3)(33500,21.0)(34400,21.3)(35200,20.85)(36100,21.05)(36900,21.2)(38300,21.0)(39000,21.2)(40000,21.1)(40700,21.0)(42500,21.15)(43100,20.9)(44000,21.0)(44500,21.3)(45000,20.95)
(30300,20.75)(30800,20.2)(31900,20.25)(33000,20.4)(34800,20.2)(35500,20.4)(36500,20.3)(37600,20.3)(38800,20.2)(40000,20.35)(41600,20.3)(42700,20.35)(43900,20.2)(44500,20.3)(45200,20.3)
(30600,19.2)(31700,19.1)(32700,19.0)(33700,19.0)(34700,19.05)(35900,19.1)(36800,18.95)(38200,19.1)(39200,19.4)(40800,18.95)(41500,19.3)(42300,19.35)(43300,19.0)(44000,19.35)(44800,19.1)(45100,18.9)
(30000,18.25)(31000,18.3)(32100,18.2)(33300,18.3)(34100,18.2)(35500,18.25)(36600,18.25)(37700,18.25)(38800,18.25)(39700,18.2)(40800,18.2)(41500,18.2)(42700,18.25)(43500,18.25)(44500,18.2)(45200,18.1)
(45600,26.2)(45600,25.93)(45600,25.5)(45600,25.5)(45600,24.87)(45600,23.96)(45600,23.74)(45600,23.43)(45600,23.43)(46490,23.33)(46490,23.24)(46490,23.02)
(45700,20.45)(45700,20.3)(45600,20.05)(45600,19.9)(45900,19.45)(45700,19.3)(45700,19.1)(46000,18.9)(45800,18.75)(46000,18.55)(46500,20.55)(46500,20.45)(46500,20.15)(46500,19.9)(46450,19.4)(46450,19.3)(46500,19.0)(46500,18.75)(46500,18.45)
(45600,18.1)(45700,17.9)(45800,17.7)(45700,17.5)(45800,17.3)(45900,17.1)(45900,16.9)(46000,16.65)(46000,16.55)(46000,16.75)(46100,17.2)(46100,17.8)(46300,18.0)(46300,17.5)(46500,17.9)(46500,17.5)(46600,17.2)(46800,17.0)(46800,16.75)(47000,17.9)(47000,18.1)(47100,17.5)(47200,16.7)(47300,17.95)(47400,17.65)(47500,17.3)(47200,19.2)(47250,18.9)(47250,18.7)(47250,18.5)(47300,18.25)(47200,19.0)(47300,19.3)
(45900,18.3)(46000,18.0)(46100,17.5)(45950,17.4)(46200,17.2)(46300,17.7)(46400,18.2)(46600,17.7)(46700,17.4)(46700,17.9)(46800,18.15)(46900,17.6)(47000,17.4)(47100,17.85)(47200,18.1)(47300,17.6)(47400,17.9)(47500,17.5)(47600,17.7)(47600,18.0)(47700,17.75)(47800,17.5)(47400,18.1)(46900,17.2)(46200,16.95)
(47600,16.9)(47700,16.35)(47700,16.75)(47800,17.05)(47800,17.25)(47700,17.0)(47750,17.4)(47900,17.7)(47900,17.5)(48100,19.6)(48100,19.5)(48100,19.3)(48100,19.0)(48100,18.6)(47900,18.0)
};
\addlegendentry{TCN}
\end{axis}
\end{tikzpicture}
\end{document}
